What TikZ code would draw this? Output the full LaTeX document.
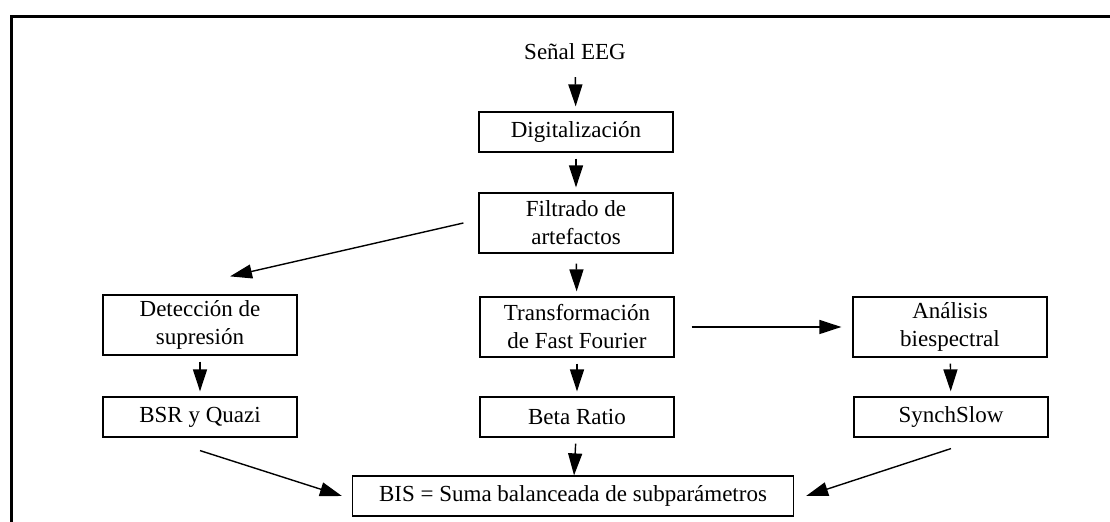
\documentclass[tikz,border=0pt]{standalone}
\usepackage{fontspec}
\setmainfont{Liberation Serif}
\usepackage{tikz}
\usetikzlibrary{arrows.meta}
\tikzset{box/.style={draw, line width=0.6pt, minimum width=97pt, minimum height=20pt, inner sep=0pt, align=center, font=\fontsize{11.5}{14}\selectfont},
  tallbox/.style={box, minimum height=30pt},
  arr/.style={-{Triangle[length=11pt, width=7pt]}, line width=0.7pt, shorten <=3pt, shorten >=2.5pt}}

\begin{document}
\begin{tikzpicture}[x=0.5pt, y=-0.5pt]
    \useasboundingbox (0,0) rectangle (1110,522);
    \draw [line width=1.5pt] (11,522) |- (1110,17);

    \node [font=\fontsize{11.5}{14}\selectfont] (sig) at (575,52) {Señal EEG};
    \node [box] (dig) at (576,132) {Digitalización};
    \node [tallbox] (filt) at (576,223) {Filtrado de\\artefactos};
    \node [tallbox] (det) at (200,325) {Detección de\\supresión};
    \node [tallbox] (fft) at (577,327) {Transformación\\de Fast Fourier};
    \node [tallbox] (ana) at (950,327) {Análisis\\biespectral};
    \node [box] (bsr) at (200,417) {BSR y Quazi};
    \node [box] (beta) at (577,417) {Beta Ratio};
    \node [box] (syn) at (951,417) {SynchSlow};
    \node [box, minimum width=220.5pt] (bis) at (573,496) {BIS = Suma balanceada de subparámetros};

    \draw [arr, shorten <=5pt] (sig) -- (dig);
    \draw [arr] (dig) -- (filt);
    \draw [arr, shorten <=5pt] (filt) -- (fft);
    \draw [arr] (fft) -- (beta);
    \draw [arr] (det) -- (bsr);
    \draw [arr] (ana) -- (syn);
    \draw [arr, shorten >=0pt] (beta) -- (bis);
    \draw [arr, shorten <=0pt, shorten >=0pt] ([xshift=-7.5pt]filt.west) -- ([shift={(15pt,9pt)}]det.north);
    \draw [arr, shorten <=8.5pt, shorten >=5.5pt] (fft) -- (ana);
    \draw [arr, shorten <=0pt, shorten >=0pt] ([yshift=-6.5pt]bsr.south) -- ([xshift=-5pt]bis.west);
    \draw [arr, shorten <=0pt, shorten >=0pt] ([yshift=-5.5pt]syn.south) -- ([xshift=6pt]bis.east);
  \end{tikzpicture}
\end{document}
